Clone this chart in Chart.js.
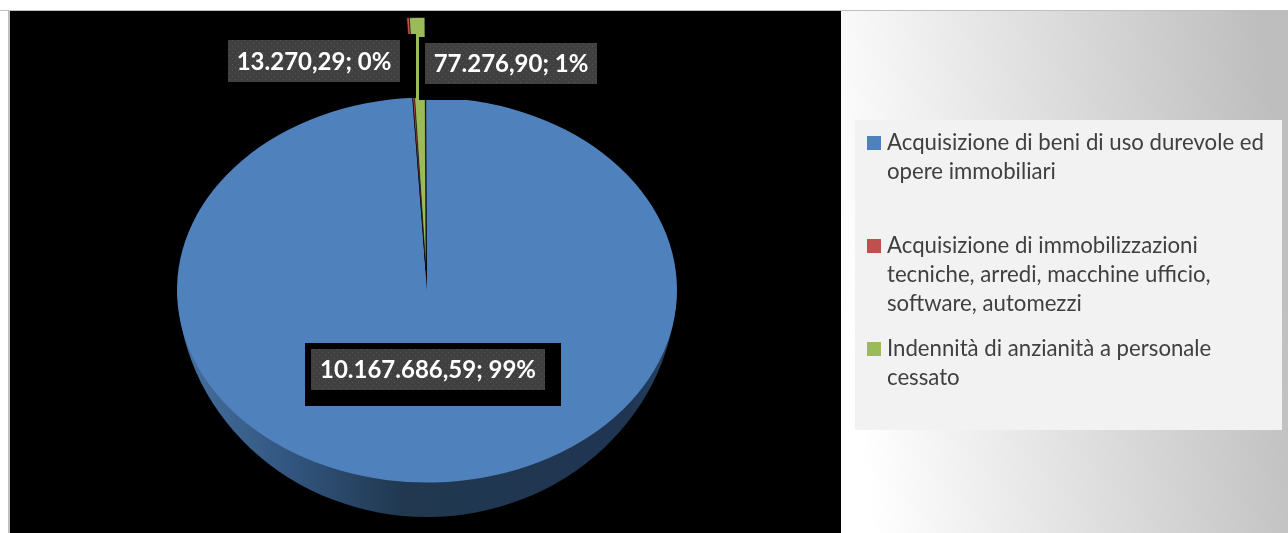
<!DOCTYPE html>
<html>
<head>
<meta charset="utf-8">
<title>Pie</title>
<script src="https://cdn.jsdelivr.net/npm/chart.js@4"></script>
<style>
  html, body { margin: 0; padding: 0; background: #fff; }
  canvas { display: block; }
</style>
</head>
<body>
<canvas id="PieChart" width="1288" height="533"></canvas>
<script>
const categories = [
  ['Acquisizione di beni di uso durevole ed', 'opere immobiliari'],
  ['Acquisizione di immobilizzazioni', 'tecniche, arredi, macchine ufficio,', 'software, automezzi'],
  ['Indennità di anzianità a personale', 'cessato']
];
const values = [10167686.59, 13270.29, 77276.90];
const colors = ['#4f81bd', '#c0504d', '#9bbb59'];

// screen layout of the boxes, kept apart from the data
const labelBoxes = [
  { x: 311, y: 349, w: 234, h: 41 },
  { x: 228, y: 40, w: 172, h: 42 },
  { x: 425, y: 43, w: 172, h: 41 }
];
const legendRows = [150, 253, 356];
const FONT = 'Lato, "Open Sans", sans-serif';
const SQUASH = 0.77;

function dotPattern(ctx) {
  const c = document.createElement('canvas');
  c.width = 6;
  c.height = 6;
  const p = c.getContext('2d');
  p.fillStyle = '#404040';
  p.fillRect(0, 0, 6, 6);
  p.fillStyle = '#565656';
  p.fillRect(1, 1, 1, 1);
  p.fillRect(4, 4, 1, 1);
  return ctx.createPattern(c, 'repeat');
}

const backdrop = {
  id: 'backdrop',
  beforeDraw(chart) {
    const ctx = chart.ctx;
    ctx.fillStyle = '#ffffff';
    ctx.fillRect(0, 0, 1288, 533);
    ctx.fillStyle = '#bfbfbf';
    ctx.fillRect(0, 10, 1288, 1);
    ctx.fillRect(8, 10, 2, 523);
    const g = ctx.createLinearGradient(841, 290, 1288, 230);
    g.addColorStop(0, '#ffffff');
    g.addColorStop(1, '#bebebe');
    ctx.fillStyle = g;
    ctx.fillRect(841, 11, 447, 522);
    ctx.fillStyle = '#000000';
    ctx.fillRect(10, 11, 831, 522);
    ctx.fillStyle = '#f2f2f2';
    ctx.fillRect(855, 120, 427, 310);
  }
};

// squashes the round pie into an ellipse and draws the side wall under it
const tilt = {
  id: 'tilt',
  afterDatasetsUpdate(chart) {
    // the two small slices stick out of the pie, towards the top
    const arcs = chart.getDatasetMeta(0).data;
    [arcs[1], arcs[2]].forEach(function (a) {
      a.x -= 1;
      a.y -= 26;
      a.outerRadius = 328;
    });
  },
  beforeDatasetsDraw(chart) {
    const ctx = chart.ctx;
    const arc = chart.getDatasetMeta(0).data[0];
    const r = arc.outerRadius;
    const wall = ctx.createLinearGradient(arc.x - r, 0, arc.x + r, 0);
    wall.addColorStop(0, '#46719f');
    wall.addColorStop(0.22, '#325680');
    wall.addColorStop(0.45, '#213850');
    wall.addColorStop(0.9, '#1f3552');
    wall.addColorStop(1, '#274466');
    ctx.save();
    ctx.beginPath();
    ctx.rect(arc.x - r, arc.y, 2 * r, 260);
    ctx.clip();
    ctx.fillStyle = wall;
    ctx.beginPath();
    ctx.ellipse(arc.x, arc.y - 8, r, 235, 0, 0, Math.PI * 2);
    ctx.fill();
    ctx.restore();

    ctx.save();
    ctx.translate(0, arc.y);
    ctx.scale(1, SQUASH);
    ctx.translate(0, -arc.y);
  },
  afterDatasetsDraw(chart) {
    chart.ctx.restore();
  }
};

const boxLabels = {
  id: 'boxLabels',
  afterDraw(chart) {
    const ctx = chart.ctx;
    const total = values.reduce((a, b) => a + b, 0);
    const dots = dotPattern(ctx);
    ctx.save();
    ctx.textBaseline = 'middle';
    ctx.textAlign = 'center';
    ctx.font = 'bold 24px ' + FONT;
    labelBoxes.forEach(function (b, i) {
      ctx.fillStyle = '#000000';
      ctx.fillRect(b.x - 6, b.y - 6, b.w + 22, b.h + 22);
      ctx.fillStyle = dots;
      ctx.fillRect(b.x, b.y, b.w, b.h);
      const txt = values[i].toLocaleString('it-IT', { minimumFractionDigits: 2, maximumFractionDigits: 2 }) +
        '; ' + Math.round(values[i] / total * 100) + '%';
      ctx.fillStyle = '#ffffff';
      ctx.fillText(txt, b.x + b.w / 2, b.y + b.h / 2 + 1);
    });
    ctx.restore();

    ctx.save();
    ctx.font = '22.2px ' + FONT;
    ctx.textAlign = 'left';
    ctx.textBaseline = 'alphabetic';
    categories.forEach(function (lines, i) {
      ctx.fillStyle = colors[i];
      ctx.fillRect(867, legendRows[i] - 14, 14, 14);
      ctx.fillStyle = '#404040';
      lines.forEach(function (line, k) {
        ctx.fillText(line, 887, legendRows[i] + k * 29);
      });
    });
    ctx.restore();
  }
};

new Chart(document.getElementById('PieChart'), {
  type: 'pie',
  data: {
    labels: categories,
    datasets: [{
      data: values,
      backgroundColor: colors,
      borderColor: '#000000',
      borderWidth: [0, 0.6, 0.6],
      clip: false
    }]
  },
  options: {
    responsive: false,
    animation: false,
    radius: 250,
    rotation: -0.2,
    layout: { padding: { left: 0, right: 434, top: 47, bottom: 0 } },
    plugins: {
      legend: { display: false },
      tooltip: { enabled: false }
    }
  },
  plugins: [backdrop, tilt, boxLabels]
});
</script>
</body>
</html>
